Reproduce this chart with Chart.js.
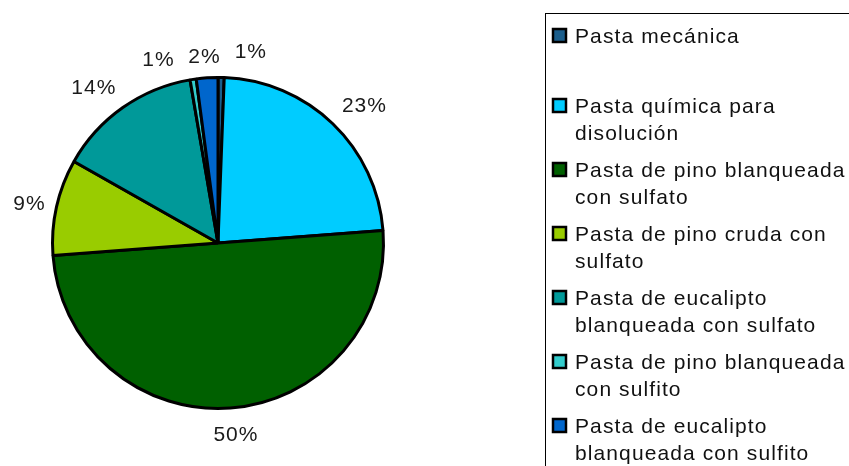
<!DOCTYPE html>
<html>
<head>
<meta charset="utf-8">
<script src="https://cdn.jsdelivr.net/npm/chart.js@4.4.1/dist/chart.umd.min.js"></script>
<style>
  html, body { margin: 0; padding: 0; background: #fff; }
  #wrap { width: 849px; height: 466px; }
</style>
</head>
<body>
<div id="wrap"><canvas id="pie" width="849" height="466"></canvas></div>
<script>
// categorias (ya partidas en lineas como en la leyenda)
const categories = [
    ['Pasta mecánica'],
    ['Pasta química para', 'disolución'],
    ['Pasta de pino blanqueada', 'con sulfato'],
    ['Pasta de pino cruda con', 'sulfato'],
    ['Pasta de eucalipto', 'blanqueada con sulfato'],
    ['Pasta de pino blanqueada', 'con sulfito'],
    ['Pasta de eucalipto', 'blanqueada con sulfito']
];
// porcentajes
const shares = [0.6, 23.2, 50.0, 9.4, 14.1, 0.6, 2.1];
const colors = ['#1b5e8c', '#00ccff', '#006000', '#99cc00', '#009999', '#33cccc', '#0066cc'];

// ajuste de las etiquetas de porcentaje: giro (grados) y distancia extra
const labelNudge = [8.7, 3.0, -1, -1, -3.6, -9.4, -0.4];
const labelGap = [28, 35, 28, 27, 33, 27, 21];

const FONT = '21px "Liberation Sans", Arial, sans-serif';

// etiquetas de porcentaje fuera del sector
const pctLabels = {
    id: 'pctLabels',
    afterDatasetsDraw(chart) {
        const ctx = chart.ctx;
        const meta = chart.getDatasetMeta(0);
        const total = shares.reduce((a, b) => a + b, 0);
        ctx.save();
        ctx.font = FONT;
        ctx.letterSpacing = '1px';
        ctx.fillStyle = '#1a1a1a';
        ctx.textAlign = 'center';
        ctx.textBaseline = 'middle';
        meta.data.forEach((arc, i) => {
            const mid = (arc.startAngle + arc.endAngle) / 2 + labelNudge[i] * Math.PI / 180;
            const r = arc.outerRadius + labelGap[i];
            const x = arc.x + Math.cos(mid) * r;
            const y = arc.y + Math.sin(mid) * r;
            ctx.fillText(Math.round(shares[i] / total * 100) + '%', x, y);
        });
        ctx.restore();
    }
};

// leyenda dibujada a mano (caja cortada por el borde como en el original)
const boxLegend = {
    id: 'boxLegend',
    afterDraw(chart) {
        const ctx = chart.ctx;
        ctx.save();
        ctx.strokeStyle = '#000';
        ctx.lineWidth = 1;
        ctx.strokeRect(545.5, 13.5, 400, 500);
        ctx.font = FONT;
        ctx.letterSpacing = '1.1px';
        ctx.textBaseline = 'alphabetic';
        ctx.textAlign = 'left';
        let y = 43;
        categories.forEach((lines, i) => {
            ctx.fillStyle = colors[i];
            ctx.fillRect(553, y - 14, 13, 13);
            ctx.lineWidth = 2.5;
            ctx.strokeStyle = '#000';
            ctx.strokeRect(553, y - 14, 13, 13);
            ctx.fillStyle = '#111';
            lines.forEach((t, j) => ctx.fillText(t, 575, y + j * 27));
            y += (i === 0) ? 70 : 64;
        });
        ctx.restore();
    }
};

new Chart(document.getElementById('pie'), {
    type: 'pie',
    data: {
        labels: categories,
        datasets: [{
            data: shares,
            backgroundColor: colors,
            borderColor: '#000',
            borderWidth: 3
        }]
    },
    options: {
        responsive: false,
        animation: false,
        devicePixelRatio: 1,
        layout: { padding: { left: 51, right: 464, top: 76, bottom: 56 } },
        plugins: {
            legend: { display: false },
            tooltip: { enabled: false }
        }
    },
    plugins: [pctLabels, boxLegend]
});
</script>
</body>
</html>
